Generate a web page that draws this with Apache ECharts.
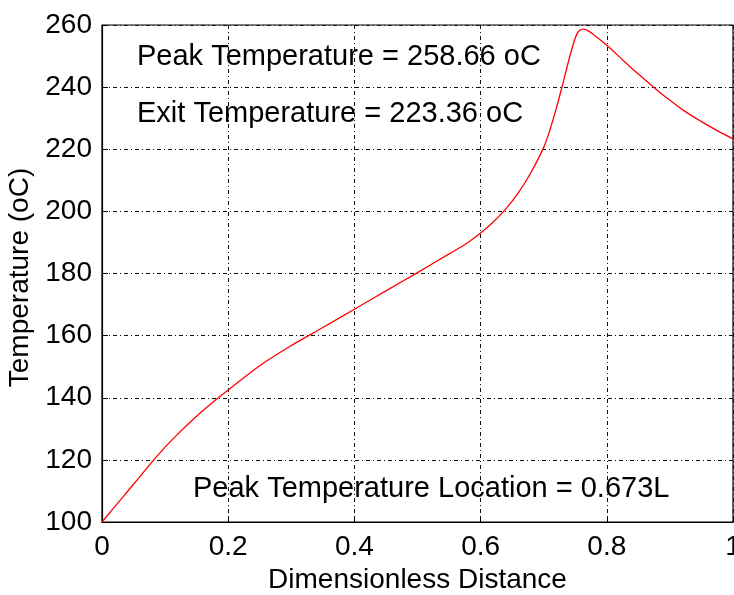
<!DOCTYPE html>
<html>
<head>
<meta charset="utf-8">
<script src="https://cdn.jsdelivr.net/npm/echarts@6/dist/echarts.min.js"></script>
<style>
html,body{margin:0;padding:0;background:#fff;overflow:hidden;}
#chart{width:734px;height:595px;}
</style>
</head>
<body>
<div id="chart"></div>
<script>
var distance = [0, 0.03, 0.06, 0.08, 0.1, 0.12, 0.14, 0.16, 0.18, 0.2, 0.25, 0.3, 0.35, 0.4, 0.45, 0.5, 0.55, 0.58, 0.6, 0.62, 0.64, 0.66, 0.68, 0.7, 0.71, 0.72, 0.73, 0.74, 0.75, 0.755, 0.7625, 0.77, 0.78, 0.8, 0.826, 0.85, 0.8724, 0.8946, 0.921, 0.95, 0.975, 1.0];
var temperature = [100, 107.3, 114.6, 119.5, 124.1, 128.3, 132.2, 135.9, 139.3, 142.5, 150.3, 156.8, 162.6, 168.5, 174.4, 180.3, 186.3, 190, 193, 196.6, 200.8, 206, 212.6, 220.6, 226.3, 233.2, 240.8, 248.8, 255.8, 257.9, 258.66, 258.2, 256.7, 253.5, 248.6, 244.2, 240.3, 236.6, 232.6, 228.9, 226, 223.36];
var xTicks = [0, 0.2, 0.4, 0.6, 0.8, 1];
var yTicks = [100, 120, 140, 160, 180, 200, 220, 240, 260];
var annotations = ['Peak Temperature = 258.66 oC', 'Exit Temperature = 223.36 oC', 'Peak Temperature Location = 0.673L'];
var xLabel = 'Dimensionless Distance';
var yLabel = 'Temperature (oC)';

var FONT = 'Liberation Sans, Arial, sans-serif';
var FS = 28;
var FS_NOTE = 29;
var points = distance.map(function (d, i) { return [d, temperature[i]]; });
var gridDash = [4, 3, 1, 3];

var chart = echarts.init(document.getElementById('chart'), null, {renderer: 'canvas'});
chart.setOption({
  backgroundColor: '#ffffff',
  animation: false,
  grid: {left: 102, right: 1, top: 25, bottom: 73, show: true, borderColor: '#000', borderWidth: 1.2,
    containLabel: false, outerBoundsMode: 'none'},
  xAxis: {
    type: 'value', min: xTicks[0], max: xTicks[xTicks.length - 1], interval: 0.2,
    name: xLabel, nameLocation: 'middle', nameGap: 36,
    nameTextStyle: {fontFamily: FONT, fontSize: FS, color: '#000'},
    axisLine: {show: true, lineStyle: {color: '#000', width: 1.2}},
    axisTick: {show: true, inside: true, length: 6, lineStyle: {color: '#000'}},
    axisLabel: {fontFamily: FONT, fontSize: FS, color: '#000', margin: 11, hideOverlap: false,
      formatter: function (v) { return String(parseFloat(v.toFixed(1))); }},
    splitLine: {show: true, lineStyle: {color: '#111', width: 1, type: gridDash}}
  },
  yAxis: {
    type: 'value', min: yTicks[0], max: yTicks[yTicks.length - 1], interval: 20,
    name: yLabel, nameLocation: 'middle', nameGap: 64,
    nameTextStyle: {fontFamily: FONT, fontSize: FS, color: '#000', padding: [0, 8, 0, 0]},
    axisLine: {show: true, lineStyle: {color: '#000', width: 1.2}},
    axisTick: {show: true, inside: true, length: 6, lineStyle: {color: '#000'}},
    axisLabel: {fontFamily: FONT, fontSize: FS, color: '#000', margin: 10},
    splitLine: {show: true, lineStyle: {color: '#111', width: 1, type: gridDash}}
  },
  series: [{
    type: 'line', data: points, smooth: 0.35, showSymbol: false,
    lineStyle: {color: '#ff0000', width: 1.3}
  }],
  graphic: [
    {type: 'text', left: 137, top: 42, style: {text: annotations[0], font: FS_NOTE + 'px ' + FONT, fill: '#000'}},
    {type: 'text', left: 137, top: 99, style: {text: annotations[1], font: FS_NOTE + 'px ' + FONT, fill: '#000'}},
    {type: 'text', left: 193, top: 474, style: {text: annotations[2], font: FS_NOTE + 'px ' + FONT, fill: '#000'}}
  ]
});
</script>
</body>
</html>
